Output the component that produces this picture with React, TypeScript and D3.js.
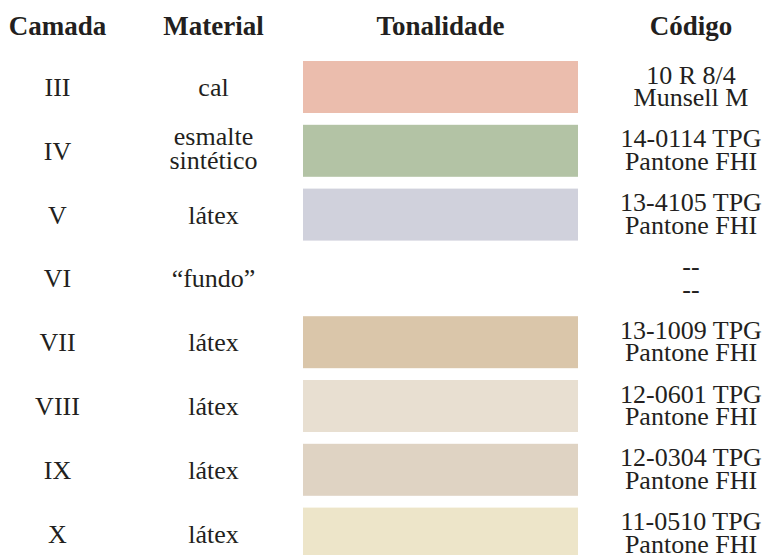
import React from 'react';
import * as d3 from 'd3';

// layer data, top to bottom
const camadas = ['III', 'IV', 'V', 'VI', 'VII', 'VIII', 'IX', 'X'];
const materiais = [['cal'], ['esmalte', 'sintético'], ['látex'], ['“fundo”'], ['látex'], ['látex'], ['látex'], ['látex']];
const tonalidades = ['#ebbdad', '#b3c3a5', '#d0d1dc', null, '#dac6aa', '#e8dfd1', '#dfd3c3', '#ede5c9'];
const codigos = [
  ['10 R 8/4', 'Munsell M'],
  ['14-0114 TPG', 'Pantone FHI'],
  ['13-4105 TPG', 'Pantone FHI'],
  ['--', '--'],
  ['13-1009 TPG', 'Pantone FHI'],
  ['12-0601 TPG', 'Pantone FHI'],
  ['12-0304 TPG', 'Pantone FHI'],
  ['11-0510 TPG', 'Pantone FHI'],
];
const cabecalhos = ['Camada', 'Material', 'Tonalidade', 'Código'];

const width = 767;
const height = 555;
const ink = '#231f20';

const App = () => {
  const y = d3.scaleBand<string>()
    .domain(camadas)
    .range([55.1, 55.1 + 8 * 63.8])
    .paddingInner(0.185)
    .paddingOuter(0.0925);

  const x = d3.scaleOrdinal<string, number>()
    .domain(cabecalhos)
    .range([57.5, 213.5, 440.5, 691]);

  const swatch = d3.scaleLinear().domain([0, 1]).range([303, 578]);

  const rows = camadas.map((c, i) => ({
    camada: c,
    material: materiais[i],
    cor: tonalidades[i],
    codigo: codigos[i],
  }));

  return (
    <svg width={width} height={height}
      style={{ position: 'absolute', left: 0, top: 0, background: '#fff', fontFamily: "'Liberation Serif', serif" }}
      fill={ink}>
      <g fontWeight="bold" fontSize={27} textAnchor="middle">
        {cabecalhos.map(h => (
          <text key={h} x={x(h)} y={35}>{h}</text>
        ))}
      </g>
      {rows.map(r => {
        const cy = (y(r.camada) ?? 0) + y.bandwidth() / 2;
        return (
          <g key={r.camada} fontSize={26} textAnchor="middle">
            <text x={x('Camada')} y={cy + 9}>{r.camada}</text>
            {r.material.length === 1
              ? <text x={x('Material')} y={cy + 9}>{r.material[0]}</text>
              : r.material.map((m, j) => (
                <text key={j} x={x('Material')} y={cy - 6 + j * 24}>{m}</text>
              ))}
            {r.cor && (
              <rect x={swatch(0)} y={y(r.camada)} width={swatch(1) - swatch(0)}
                height={y.bandwidth()} fill={r.cor} />
            )}
            {r.codigo.map((c, j) => (
              <text key={j} x={x('Código')} y={cy - 3.5 + j * 22.7}>{c}</text>
            ))}
          </g>
        );
      })}
    </svg>
  );
};

export default App;
